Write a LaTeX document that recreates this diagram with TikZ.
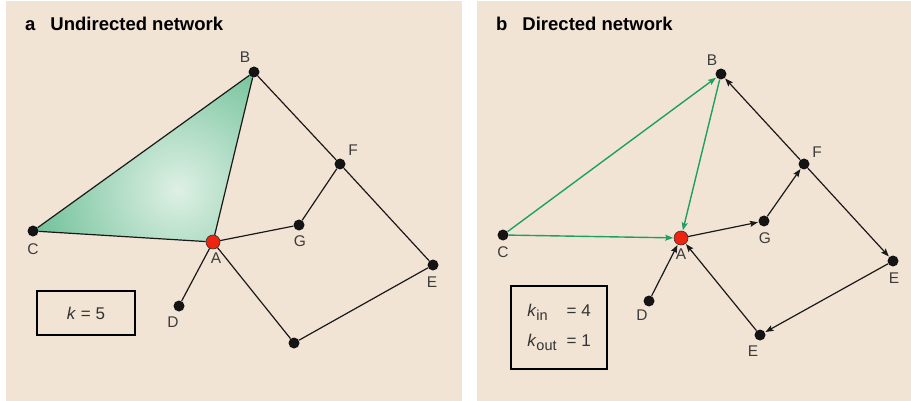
\documentclass[tikz,border=0pt]{standalone}
\usepackage{fontspec}
\setmainfont{Liberation Sans}
\usetikzlibrary{arrows.meta,positioning}
\definecolor{panelbg}{RGB}{242,228,212}
\definecolor{netgreen}{RGB}{30,160,100}
\definecolor{trigreen}{RGB}{96,186,142}
\definecolor{trilight}{RGB}{222,240,228}
\definecolor{hubred}{RGB}{236,36,16}
\definecolor{lblgray}{RGB}{60,60,60}

\begin{document}
\begin{tikzpicture}[x=1pt,y=-1pt,
    dot/.style={circle,fill=black!92,inner sep=0pt,minimum size=11pt},
    hub/.style={circle,fill=hubred,draw=black!80,line width=0.6pt,inner sep=0pt,minimum size=14pt},
    lbl/.style={text=lblgray,font=\fontsize{15.5}{17}\selectfont,inner sep=0pt},
    ttl/.style={anchor=base west,inner sep=0pt,font=\fontsize{18.5}{20}\selectfont\bfseries},
    edge/.style={line width=1.2pt,black!90},
    arc/.style={edge,-{Stealth[length=8pt,width=6pt,inset=1.4pt]},shorten >=0.5pt},
    kbox/.style={draw,line width=1.3pt,inner sep=0pt,text=black!80,font=\fontsize{17}{19}\selectfont}]
  \useasboundingbox (0,0) rectangle (911,401);
  % panels
  \fill[panelbg] (6,1) rectangle (462,401);
  \fill[panelbg] (477,1) rectangle (911,401);
  \node[ttl] (ta) at (25,31) {a\hspace{15pt}Undirected network};
  \node[ttl] (tb) at (496,31) {b\hspace{15pt}Directed network};

  % a: shaded triangle
  \begin{scope}
    \clip (33,231) -- (254,72) -- (213,242) -- cycle;
    \shade[inner color=trilight,outer color=trigreen] (178,190) circle (170);
  \end{scope}

  % a: nodes
  \foreach \n/\x/\y/\lx/\ly in {B/254/72/245/57,C/33/231/33/249,G/299/225/300/241,
      F/340/164/353/150,E/433/265/432/282,D/179/306/173/322}{
    \node[dot] (a\n) at (\x,\y) {};
    \node[lbl] (la\n) at (\lx,\ly) {\n};
  }
  \node[dot] (aH) at (294,343) {};
  \node[hub] (aA) at (213,242) {};
  \node[lbl] (laA) at (216,258) {A};
  \foreach \a/\b in {aC/aB,aB/aA,aC/aA,aA/aG,aG/aF,aB/aF,aF/aE,aE/aH,aH/aA,aA/aD}
    \draw[edge] (\a) -- (\b);
  \node[kbox,minimum width=98pt,minimum height=44pt] (ka) at (86,313) {\textit{k} = 5};

  % b: nodes
  \foreach \n/\t/\x/\y/\lx/\ly in {B/B/721/74/712/60,C/C/503/235/503/252,G/G/764/221/765/238,
      F/F/804/164/817/152,E/E/893/261/894/278,D/D/649/301/642/315,H/E/760/335/753/351}{
    \node[dot] (b\n) at (\x,\y) {};
    \node[lbl] (lb\n) at (\lx,\ly) {\t};
  }
  \node[hub] (bA) at (681,238) {};
  \node[lbl] (lbA) at (681,254) {A};
  \foreach \a/\b in {bA/bG,bG/bF,bF/bB,bF/bE,bE/bH,bH/bA,bD/bA}
    \draw[arc] (\a) -- (\b);
  \foreach \a/\b in {bC/bB,bC/bA,bB/bA}
    \draw[arc,netgreen,line width=1.4pt] (\a) -- (\b);
  \node[kbox,minimum width=96pt,minimum height=83pt] (kb) at (559,327.5) {%
    \begin{tabular}{@{}l@{\hspace{10pt}}l@{}}
      \textit{k}\raisebox{-0.5ex}{\fontsize{14.5}{15}\selectfont in} & = 4\\[11pt]
      \textit{k}\raisebox{-0.5ex}{\fontsize{14.5}{15}\selectfont out} & = 1
    \end{tabular}};
\end{tikzpicture}
\end{document}
